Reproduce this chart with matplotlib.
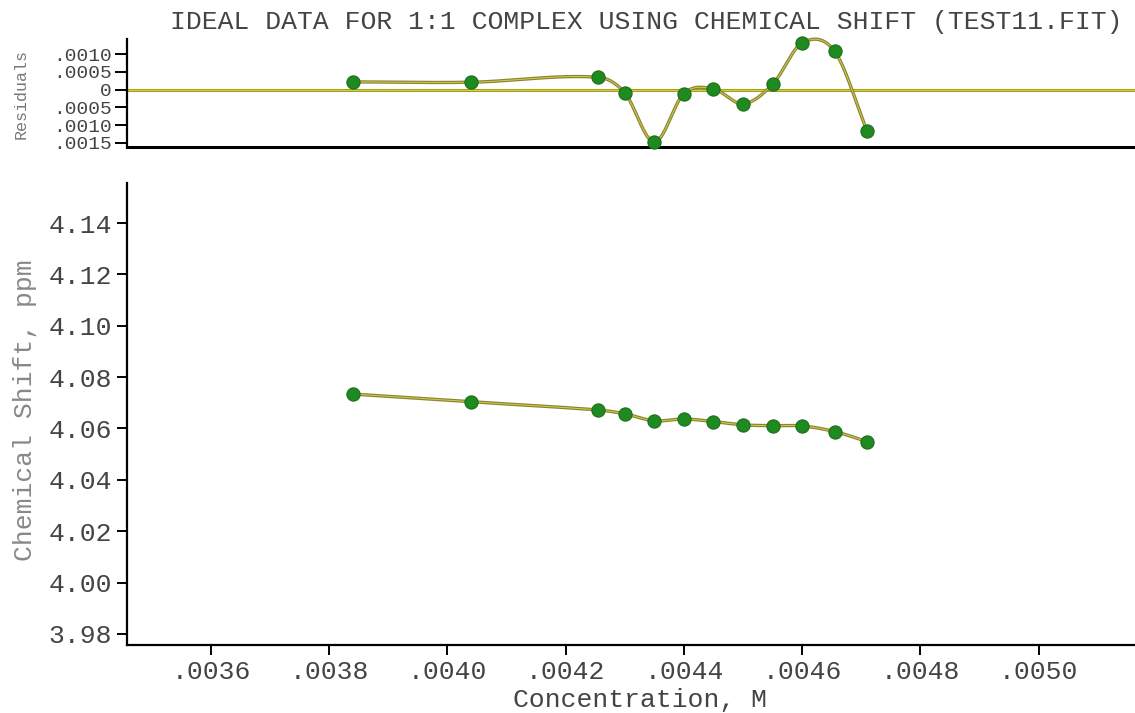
import numpy as np
import matplotlib.pyplot as plt
from matplotlib.ticker import FuncFormatter

# Data
conc = [0.00384, 0.00404, 0.004255, 0.00430, 0.00435, 0.00440,
        0.00445, 0.00450, 0.00455, 0.00460, 0.004655, 0.00471]
shift = [4.0734, 4.0704, 4.0672, 4.0657, 4.0630, 4.0637,
         4.0627, 4.0614, 4.0611, 4.0610, 4.0588, 4.0549]
resid = [0.00022, 0.00021, 0.00035, -0.00009, -0.00148, -0.00011,
         0.00002, -0.00040, 0.00015, 0.00132, 0.00108, -0.00118]

x_ticks = [0.0036, 0.0038, 0.0040, 0.0042, 0.0044, 0.0046, 0.0048, 0.0050]
y_ticks = [3.98, 4.00, 4.02, 4.04, 4.06, 4.08, 4.10, 4.12, 4.14]
r_ticks = [0.0010, 0.0005, 0.0, -0.0005, -0.0010, -0.0015]

title = 'IDEAL DATA FOR 1:1 COMPLEX USING CHEMICAL SHIFT (TEST11.FIT)'


def smooth_curve(x, y, n=40):
    # cubic hermite through the points (finite-difference tangents), only for drawing the line
    x = np.asarray(x, float)
    y = np.asarray(y, float)
    m = np.empty_like(y)
    m[1:-1] = (y[2:] - y[:-2]) / (x[2:] - x[:-2])
    m[0] = (y[1] - y[0]) / (x[1] - x[0])
    m[-1] = (y[-1] - y[-2]) / (x[-1] - x[-2])
    xs_all, ys_all = [], []
    for i in range(len(x) - 1):
        h = x[i + 1] - x[i]
        t = np.linspace(0, 1, n)
        h00 = 2 * t**3 - 3 * t**2 + 1
        h10 = t**3 - 2 * t**2 + t
        h01 = -2 * t**3 + 3 * t**2
        h11 = t**3 - t**2
        xs_all.append(x[i] + t * h)
        ys_all.append(h00 * y[i] + h10 * h * m[i] + h01 * y[i + 1] + h11 * h * m[i + 1])
    return np.concatenate(xs_all), np.concatenate(ys_all)


plt.rcParams['font.family'] = ['Liberation Mono', 'DejaVu Sans Mono']

fig = plt.figure(figsize=(11.35, 7.13), dpi=100)
ax_r = fig.add_axes([0.1119, 0.7938, 0.8881, 0.1515])
ax = fig.add_axes([0.1119, 0.0955, 0.8881, 0.6478])

line_dark = '#8a8434'
line_light = '#d2cc4c'
pt_face = '#1f8a1f'
pt_edge = '#1a6e1a'

for a in (ax, ax_r):
    a.spines['top'].set_visible(False)
    a.spines['right'].set_visible(False)
    a.spines['left'].set_linewidth(1.6)
    a.spines['bottom'].set_linewidth(1.6)
    a.set_xlim(0.003458, 0.005163)

# residuals panel
ax_r.axhline(0, color='#a3a01c', lw=2.2, zorder=1)
ax_r.axhline(0, color='#dcd65a', lw=0.6, zorder=1)
xs, ys = smooth_curve(conc, resid)
ax_r.plot(xs, ys, color=line_dark, lw=2.4, zorder=2, clip_on=False)
ax_r.plot(xs, ys, color=line_light, lw=0.7, zorder=2, clip_on=False)
ax_r.plot(conc, resid, 'o', ms=9.5, color=pt_face, mec=pt_edge, mew=0.8, zorder=3, clip_on=False)
ax_r.set_ylim(-0.00162, 0.00143)
ax_r.set_yticks(r_ticks)
ax_r.yaxis.set_major_formatter(FuncFormatter(
    lambda v, p: '0' if abs(v) < 1e-12 else f'{abs(v):.4f}'.lstrip('0')))
ax_r.set_xticks([])
ax_r.tick_params(axis='y', direction='out', length=9, width=1.4, pad=2,
                 labelsize=14, labelcolor='#444444')
ax_r.spines['bottom'].set_linewidth(2.2)
fig.text(0.019, 0.868, 'Residuals', rotation=90, fontsize=12, color='#777777',
         ha='center', va='center')

# main panel
xs, ys = smooth_curve(conc, shift)
ax.plot(xs, ys, color=line_dark, lw=2.4, zorder=2)
ax.plot(xs, ys, color=line_light, lw=0.7, zorder=2)
ax.plot(conc, shift, 'o', ms=9.5, color=pt_face, mec=pt_edge, mew=0.8, zorder=3)
ax.set_ylim(3.9757, 4.1556)
ax.set_yticks(y_ticks)
ax.yaxis.set_major_formatter(FuncFormatter(lambda v, p: f'{v:.2f}'))
ax.set_xticks(x_ticks)
ax.xaxis.set_major_formatter(FuncFormatter(lambda v, p: f'{v:.4f}'.lstrip('0')))
ax.tick_params(direction='out', length=7, width=1.4, pad=4,
               labelsize=19, labelcolor='#444444')

fig.text(0.569, 0.969, title, fontsize=19, color='#444444', ha='center', va='center')
fig.text(0.564, 0.018, 'Concentration, M', fontsize=19, color='#444444',
         ha='center', va='center')
fig.text(0.022, 0.425, 'Chemical Shift, ppm', rotation=90, fontsize=19,
         color='#888888', ha='center', va='center')

fig.savefig('out.png', dpi=100)
